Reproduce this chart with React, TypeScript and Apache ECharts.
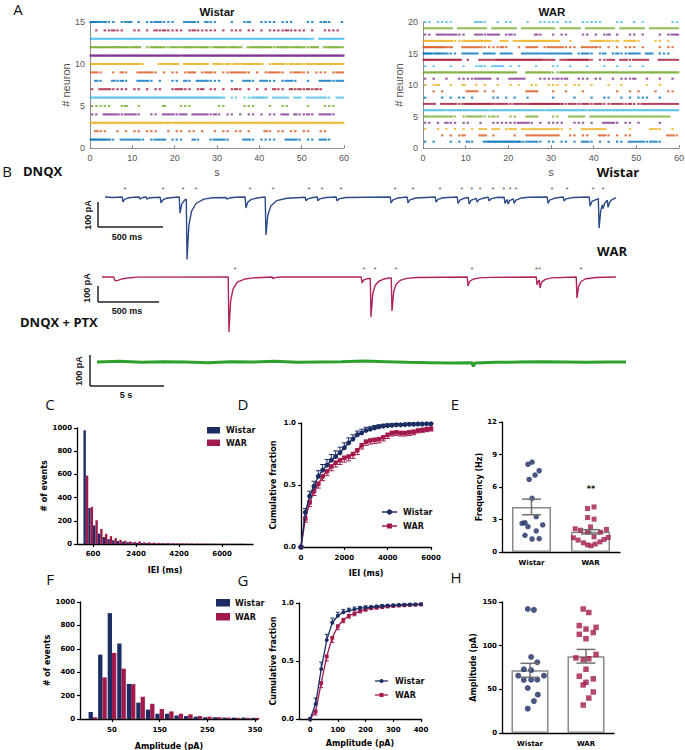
import React, { useEffect, useRef } from "react";
import * as echarts from "echarts";

const NAVY = "#1b2d63";
const CRIMSON = "#a3194b";
const BLUE_TRACE = "#2c4a86";
const RED_TRACE = "#b0235a";
const GREEN_TRACE = "#2da12d";
const PF = "DejaVu Sans";
const MF = "Liberation Sans";
const LF = "Open Sans";
const MATLAB = ["#0072BD", "#D95319", "#EDB120", "#7E2F8E", "#77AC30", "#4DBEEE", "#A2142F"];

// ---- Panel A: spikes per second for each neuron (index 0 = neuron 1) ----
const wistarRows = [
  "3333210222" + "2210122201" + "1100210012" + "2210002210" + "1111002221" + "0110221000",
  "0211001010" + "1101110010" + "1101101001" + "0110110100" + "0210110110" + "1100110000",
  "3333333333" + "3333333232" + "3333333333" + "3333333333" + "3333333333" + "3333333333",
  "1102222122" + "2100110222" + "1220222212" + "1011010110" + "1011022021" + "1210222100",
  "1111100120" + "0100000200" + "0111000000" + "1100001110" + "0010011000" + "0100011100",
  "3333333333" + "3333333333" + "3333333333" + "3201101123" + "3202222022" + "0222221022",
  "1022211110" + "1101011001" + "2211012011" + "0101210101" + "0102110212" + "1212100000",
  "0210021210" + "0222101001" + "1021022211" + "1001002210" + "2211012210" + "0100222122",
  "2210010210" + "0222210101" + "1012201221" + "0112222101" + "0122210122" + "1101110122",
  "3333333333" + "3310002333" + "3033333303" + "3131323333" + "2013331323" + "1323333333",
  "4444444444" + "4444444444" + "4344444444" + "4444444444" + "4444444444" + "4444444444",
  "3333333332" + "3301233213" + "2233323313" + "3323320233" + "3331333233" + "2133023332",
  "3333333333" + "3333333333" + "3333333333" + "3333333333" + "3333333333" + "3320333333",
  "0101121100" + "1101021211" + "1101211111" + "0101110110" + "1011112111" + "1010011110",
  "3322110122" + "0101122111" + "0022210211" + "0001001200" + "1111011100" + "0110121001",
];
const warRows = [
  "1010001010" + "2100233333" + "3331222101" + "1011010221" + "0101011022" + "2212210000",
  "0000101012" + "0002201000" + "0100222222" + "2200110110" + "0221010110" + "0000000221",
  "1001010101" + "0102202201" + "2202222222" + "2210100222" + "2220000010" + "0002210010",
  "1101021101" + "1001001111" + "1122210101" + "1110011101" + "0022210110" + "1000010000",
  "2222222101" + "2222112100" + "1100222000" + "1100222202" + "2222222222" + "2222222200",
  "3333323333" + "3333323333" + "3333333323" + "3333333323" + "3333333333" + "3333333333",
  "2220222212" + "3333332222" + "1222233333" + "3321221221" + "2211222121" + "1222222222",
  "1000101011" + "0100001101" + "0100100000" + "1000010001" + "0011001010" + "1110010000",
  "0010100000" + "2220101000" + "0000222000" + "1001000100" + "0000010010" + "1000100110",
  "1012001002" + "0010100100" + "1010011001" + "1101011001" + "0001001000" + "0010010000",
  "1010010011" + "1122220100" + "2222000111" + "1212001110" + "1100101112" + "0010010010",
  "3333333333" + "3333333333" + "3300333333" + "1133333333" + "3333333333" + "3333333333",
  "1010001001" + "0012102220" + "1010001000" + "1100100010" + "0010010010" + "0100000000",
  "3333333330" + "1002222333" + "3333333322" + "2022333331" + "0112202212" + "2220022222",
  "3323221102" + "2220222022" + "2002222222" + "2222201221" + "0120121122" + "2022011100",
  "3333322002" + "2222111121" + "0010222012" + "2221110222" + "2101010111" + "0100010110",
  "3333333112" + "3333330022" + "0223333333" + "3300100002" + "3322120222" + "1000110100",
  "1102222211" + "0022122201" + "2100002100" + "1011000110" + "1012010011" + "0100010122",
  "2222222022" + "2222202222" + "2202222222" + "2022222022" + "2222202222" + "2202222222",
  "1101111000" + "0022100101" + "1000100111" + "1101100111" + "1100011001" + "0100000011",
];

// ---- Panel B: traces [time, pA] ----
const blueTrace = [
  [0, 0], [60, -2], [132, 0], [138, -19], [150, -9], [175, -4], [220, -1], [263, 0], [269, -8], [285, -3],
  [317, 0], [323, -8], [340, -3], [425, -1], [431, -23], [445, -11], [470, -5], [520, -2], [571, 0], [577, -62],
  [590, -28], [612, -12], [625, -8], [631, -240], [645, -110], [665, -55], [700, -25], [760, -8], [830, -3], [932, -2],
  [938, -8], [955, -4], [1000, -1], [1078, 0], [1084, -42], [1098, -20], [1125, -9], [1180, -3], [1232, 0], [1238, -146],
  [1252, -70], [1275, -35], [1320, -14], [1400, -5], [1540, -1], [1546, -15], [1560, -7], [1600, -2], [1632, 0], [1638, -15],
  [1652, -7], [1700, -2], [1778, 0], [1784, -15], [1800, -7], [1850, -2], [2194, 0], [2200, -23], [2215, -11], [2250, -4],
  [2324, 0], [2330, -23], [2345, -11], [2390, -4], [2540, 0], [2546, -20], [2560, -9], [2600, -3], [2709, 0], [2715, -25],
  [2730, -12], [2760, -5], [2794, -2], [2800, -27], [2815, -13], [2855, -5], [2861, -20], [2875, -10], [2920, -3], [2947, -1],
  [2953, -15], [2968, -7], [3010, -2], [3070, -1], [3076, -25], [3088, -13], [3094, -10], [3100, -27], [3112, -14], [3140, -7],
  [3146, -25], [3160, -12], [3200, -4], [3260, -1], [3401, 0], [3407, -25], [3420, -12], [3460, -4], [3524, 0], [3530, -15],
  [3545, -7], [3600, -2], [3724, 0], [3730, -35], [3745, -17], [3794, -6], [3800, -120], [3812, -55], [3824, -30], [3830, -45],
  [3842, -25], [3863, -12], [3869, -40], [3881, -20], [3900, -10], [3930, -2],
];
const blueStars = [154, 446, 600, 700, 1115, 1292, 1569, 1669, 1815, 2230, 2369, 2576, 2745, 2822, 2884, 2984, 3068, 3115, 3161, 3438, 3553, 3753, 3830];
const redTrace = [
  [0, 0], [95, 0], [107, -22], [130, -20], [170, -10], [230, -4], [300, -1], [1035, 0], [1041, -324], [1055, -140],
  [1075, -70], [1110, -30], [1170, -12], [1260, -4], [1396, 0], [1402, -10], [1420, -4], [1460, 0], [2126, 0], [2132, -35],
  [2145, -18], [2175, -10], [2200, -8], [2206, -235], [2220, -100], [2240, -50], [2270, -25], [2310, -12], [2360, -6], [2372, -5],
  [2378, -200], [2392, -85], [2412, -42], [2445, -20], [2500, -8], [2580, -3], [2995, 0], [3001, -53], [3015, -25], [3045, -12],
  [3100, -5], [3180, -2], [3561, 0], [3567, -45], [3580, -22], [3586, -20], [3592, -65], [3605, -30], [3635, -14], [3690, -5],
  [3889, 0], [3895, -124], [3908, -55], [3930, -25], [3970, -10], [4050, -3], [4215, 0],
];
const redStarTimes = [1091, 2148, 2239, 2411, 3034, 3575, 3928];
const redStarMarks = ["*", "*", "*", "*", "*", "**", "*"];
const greenTrace = [
  [0, 0], [1.5, 2], [3, -1], [4.5, 1], [6, 0], [7.5, -2], [9, 1], [10.5, 0], [12, 2], [13.5, -1],
  [15, 0], [16.5, 1], [18, 3], [19.5, 1], [21, -1], [22.5, -2], [24, -3], [25.3, -2], [25.4, -14], [25.5, -3],
  [27, -1], [28.5, 0], [30, 1], [31.5, 0], [33, -1], [34.5, 0], [35.7, 0],
];

// ---- Panel C: IEI histogram ----
const ieiBins = Array.from({ length: 34 }, (_, i) => 300 + 200 * i);
const ieiWistar = [980, 310, 160, 90, 60, 42, 32, 25, 20, 16, 13, 11, 9, 7, 6, 5, 5, 4, 4, 3, 3, 3, 2, 2, 2, 2, 2, 2, 1, 1, 1, 1, 1, 1];
const ieiWAR = [590, 320, 205, 130, 88, 68, 50, 36, 28, 22, 18, 22, 15, 14, 12, 10, 9, 8, 7, 7, 6, 5, 5, 4, 4, 4, 3, 3, 3, 3, 3, 2, 2, 2];

// ---- Panel D: cumulative IEI ----
const cumX = Array.from({ length: 31 }, (_, i) => i * 200);
const cumWistar = [0, 0.28, 0.41, 0.49, 0.57, 0.62, 0.66, 0.7, 0.73, 0.76, 0.8, 0.84, 0.87, 0.905, 0.92, 0.94, 0.95, 0.96, 0.97, 0.975, 0.98, 0.982, 0.985, 0.985, 0.988, 0.99, 0.99, 0.992, 0.992, 0.993, 0.993];
const cumWAR = [0, 0.23, 0.36, 0.45, 0.51, 0.57, 0.61, 0.65, 0.68, 0.7, 0.72, 0.73, 0.75, 0.78, 0.82, 0.85, 0.86, 0.865, 0.87, 0.885, 0.905, 0.92, 0.925, 0.92, 0.92, 0.925, 0.93, 0.94, 0.945, 0.95, 0.955];
const cumSemWistar = [0, 0.03, 0.04, 0.04, 0.045, 0.045, 0.045, 0.045, 0.045, 0.045, 0.04, 0.04, 0.035, 0.03, 0.03, 0.025, 0.02, 0.02, 0.015, 0.015, 0.012, 0.01, 0.01, 0.01, 0.008, 0.008, 0.006, 0.006, 0.005, 0.005, 0.005];
const cumSemWAR = [0, 0.03, 0.035, 0.035, 0.035, 0.035, 0.035, 0.035, 0.035, 0.035, 0.035, 0.035, 0.035, 0.035, 0.03, 0.03, 0.03, 0.03, 0.03, 0.03, 0.03, 0.025, 0.025, 0.025, 0.025, 0.025, 0.025, 0.02, 0.02, 0.02, 0.02];

// ---- Panel E: frequency ----
const groups = ["Wistar", "WAR"];
const freqMean = [4.16, 1.86];
const freqSem = [0.72, 0.2];
const freqWistarX = [0.44, 0.51, 0.56, 0.63, 0.46, 0.51, 0.58, 0.34, 0.39, 0.44, 0.69, 0.58, 0.39, 0.51, 0.63];
const freqWistarY = [8.1, 8.3, 7.1, 7.5, 6.7, 4.95, 3.26, 2.65, 2.7, 2.34, 2.5, 1.94, 1.54, 1.2, 1.23];
const freqWarX = [1.45, 1.56, 1.45, 1.56, 1.24, 1.33, 1.5, 1.45, 1.67, 1.77, 1.56, 1.21, 1.29, 1.38, 1.45, 1.51, 1.58, 1.66, 1.73, 1.8];
const freqWarY = [4.01, 4.16, 3.18, 3.03, 2.14, 2.01, 2.32, 1.83, 1.83, 2.08, 1.4, 1.31, 1.1, 0.85, 0.66, 0.57, 0.73, 0.94, 1.16, 1.34];

// ---- Panel F: amplitude histogram ----
const ampBins = Array.from({ length: 18 }, (_, i) => 10 + 20 * i);
const ampWistar = [60, 550, 905, 645, 300, 140, 80, 45, 45, 30, 25, 20, 15, 15, 12, 12, 12, 10];
const ampWAR = [15, 355, 565, 430, 298, 190, 130, 85, 65, 45, 40, 25, 20, 15, 12, 10, 10, 10];

// ---- Panel G: cumulative amplitude ----
const ampCumX = Array.from({ length: 21 }, (_, i) => i * 20);
const cumAmpWistar = [0, 0.13, 0.43, 0.68, 0.83, 0.89, 0.92, 0.935, 0.945, 0.955, 0.96, 0.965, 0.97, 0.975, 0.978, 0.98, 0.983, 0.985, 0.987, 0.988, 0.99];
const cumAmpWAR = [0, 0.065, 0.31, 0.54, 0.7, 0.8, 0.855, 0.89, 0.91, 0.93, 0.945, 0.955, 0.96, 0.965, 0.97, 0.975, 0.978, 0.98, 0.983, 0.985, 0.988];
const cumAmpSemWistar = [0, 0.05, 0.06, 0.05, 0.04, 0.03, 0.025, 0.02, 0.02, 0.015, 0.015, 0.01, 0.01, 0.01, 0.008, 0.008, 0.006, 0.006, 0.005, 0.005, 0.005];
const cumAmpSemWAR = [0, 0.03, 0.04, 0.04, 0.04, 0.03, 0.025, 0.02, 0.02, 0.015, 0.015, 0.01, 0.01, 0.01, 0.008, 0.008, 0.006, 0.006, 0.005, 0.005, 0.005];

// ---- Panel H: amplitude ----
const ampMean = [71.8, 87.9];
const ampSem = [8, 7.8];
const ampPtWistarX = [0.46, 0.57, 0.52, 0.63, 0.39, 0.52, 0.29, 0.39, 0.52, 0.63, 0.75, 0.46, 0.64, 0.57, 0.46];
const ampPtWistarY = [142, 141, 87, 81, 73, 72, 65.6, 60.7, 61, 61, 65.6, 51.5, 43.9, 36.6, 27.8];
const ampPtWarX = [1.45, 1.55, 1.38, 1.5, 1.68, 1.63, 1.38, 1.5, 1.32, 1.45, 1.55, 1.68, 1.5, 1.38, 1.63, 1.5, 1.45, 1.63, 1.55, 1.45];
const ampPtWarY = [142, 138, 123, 119, 121, 115, 113, 108, 86, 84, 85, 90, 73, 65, 62, 58, 55, 47, 40, 32];

function spikes(rows: string[]) {
  const pts: number[][] = [];
  rows.forEach((row, i) => {
    for (let s = 0; s < row.length; s++) {
      const n = Number(row[s]);
      for (let k = 0; k < n; k++) pts.push([s + (k + 0.5) / n, i + 1]);
    }
  });
  return pts;
}

const plain = (v: any) => String(v);

function pAxis(o: any) {
  const { label = {}, tick = {}, nameStyle = {}, ...rest } = o;
  const isCat = o.type === "category";
  return {
    splitLine: { show: false },
    axisLine: { show: true, onZero: false, lineStyle: { color: "#000", width: 1.3 } },
    axisTick: { show: true, length: 3, lineStyle: { color: "#000", width: 1.2 }, ...tick },
    axisLabel: { color: "#000", fontSize: 7, fontWeight: "bold", fontFamily: PF, margin: 5, ...(isCat ? {} : { formatter: plain }), ...label },
    nameLocation: "middle",
    nameTextStyle: { color: "#000", fontSize: 8, fontWeight: "bold", fontFamily: PF, ...nameStyle },
    ...rest,
  };
}

function mAxis(o: any) {
  const { label = {}, ...rest } = o;
  return {
    type: "value",
    splitLine: { show: false },
    axisLine: { show: true, onZero: false, lineStyle: { color: "#8c8c8c", width: 1 } },
    axisTick: { show: true, inside: true, length: 3, lineStyle: { color: "#8c8c8c" } },
    axisLabel: { color: "#555", fontSize: 9, fontFamily: MF, margin: 5, formatter: plain, ...label },
    nameLocation: "middle",
    nameTextStyle: { color: "#555", fontSize: 11, fontFamily: MF },
    ...rest,
  };
}

function errSeries(xi: number, yi: number, data: number[][], sign: number, color: string, cap: number, lw: number) {
  return {
    type: "custom",
    xAxisIndex: xi,
    yAxisIndex: yi,
    data,
    z: 5,
    silent: true,
    renderItem: (_p: any, api: any) => {
      const x = api.value(0);
      const y = api.value(1);
      const e = api.value(2);
      const p0 = api.coord([x, y]);
      const signs = sign === 0 ? [1, -1] : [sign];
      const children: any[] = [];
      for (const s of signs) {
        const p1 = api.coord([x, y + s * e]);
        children.push({ type: "line", shape: { x1: p0[0], y1: p0[1], x2: p1[0], y2: p1[1] }, style: { stroke: color, lineWidth: lw } });
        children.push({ type: "line", shape: { x1: p1[0] - cap, y1: p1[1], x2: p1[0] + cap, y2: p1[1] }, style: { stroke: color, lineWidth: lw } });
      }
      return { type: "group", children };
    },
  };
}

function txt(text: string, x: number, y: number, size: number, family: string, weight = "normal", align = "center", extra: any = {}) {
  return {
    type: "text",
    x,
    y,
    silent: true,
    ...extra,
    style: { text, fontSize: size, fontFamily: family, fontWeight: weight, fill: "#111", align, verticalAlign: "middle" },
  };
}

function ln(x1: number, y1: number, x2: number, y2: number, color = "#222", w = 1.5) {
  return { type: "line", silent: true, shape: { x1, y1, x2, y2 }, style: { stroke: color, lineWidth: w } };
}

export default function App() {
  const ref = useRef<HTMLDivElement>(null);
  useEffect(() => {
    if (!ref.current) return;
    const chart = echarts.init(ref.current, undefined, { renderer: "svg" });
    const G = (left: number, top: number, width: number, height: number) => ({ left, top, width, height, outerBoundsMode: "none", containLabel: false });

    const graphic: any[] = [
      ...([["A", 18, 9], ["B", 7, 171], ["C", 50, 404], ["D", 243, 404], ["E", 455, 404], ["F", 50, 579], ["G", 243, 580], ["H", 456, 577]] as any[]).map(
        ([t, x, y]) => txt(t, x, y, 15, LF)
      ),
      txt("Wistar", 217, 12, 11.5, MF, "bold"),
      txt("WAR", 552, 12, 11.5, MF, "bold"),
      txt("DNQX", 23, 171, 13, LF, "bold", "left"),
      txt("Wistar", 618, 172, 13, LF, "bold"),
      txt("WAR", 612, 251, 13, LF, "bold"),
      txt("DNQX + PTX", 20, 322, 13, LF, "bold", "left"),
      ln(98, 202, 98, 227), ln(98, 227, 163, 227),
      ln(98, 286, 98, 302), ln(98, 302, 159, 302),
      ln(90, 355, 90, 386), ln(90, 386, 164, 386),
      txt("100 pA", 88, 215, 9, MF, "bold", "center", { rotation: Math.PI / 2 }),
      txt("100 pA", 87, 288, 9, MF, "bold", "center", { rotation: Math.PI / 2 }),
      txt("100 pA", 79, 371, 9, MF, "bold", "center", { rotation: Math.PI / 2 }),
      txt("500 ms", 127, 237, 9, MF, "bold"),
      txt("500 ms", 127, 311, 9, MF, "bold"),
      txt("5 s", 126, 395, 9, MF, "bold"),
      { type: "rect", silent: true, shape: { x: 207, y: 427, width: 13, height: 6.5 }, style: { fill: NAVY } },
      txt("Wistar", 226, 430.5, 8, PF, "bold", "left"),
      { type: "rect", silent: true, shape: { x: 207, y: 439.5, width: 13, height: 6.5 }, style: { fill: CRIMSON } },
      txt("WAR", 226, 443, 8, PF, "bold", "left"),
      { type: "rect", silent: true, shape: { x: 216, y: 599, width: 14, height: 7.5 }, style: { fill: NAVY } },
      txt("Wistar", 235, 603, 8, PF, "bold", "left"),
      { type: "rect", silent: true, shape: { x: 216, y: 613, width: 14, height: 7.5 }, style: { fill: CRIMSON } },
      txt("WAR", 235, 617, 8, PF, "bold", "left"),
      ln(382, 512, 397, 512, NAVY, 1.5),
      { type: "circle", silent: true, shape: { cx: 389.5, cy: 512, r: 2.7 }, style: { fill: NAVY } },
      txt("Wistar", 403, 512, 8, PF, "bold", "left"),
      ln(382, 526, 397, 526, CRIMSON, 1.5),
      { type: "rect", silent: true, shape: { x: 387, y: 523.5, width: 5, height: 5 }, style: { fill: CRIMSON } },
      txt("WAR", 403, 526, 8, PF, "bold", "left"),
      ln(375, 681, 388, 681, NAVY, 1.3),
      { type: "circle", silent: true, shape: { cx: 381.5, cy: 681, r: 2 }, style: { fill: NAVY } },
      txt("Wistar", 395, 681, 8, PF, "bold", "left"),
      ln(375, 695, 388, 695, CRIMSON, 1.3),
      { type: "rect", silent: true, shape: { x: 379.5, y: 693, width: 4, height: 4 }, style: { fill: CRIMSON } },
      txt("WAR", 395, 695, 8, PF, "bold", "left"),
      txt("**", 591, 489, 8, PF, "bold"),
    ];

    const option: any = {
      animation: false,
      backgroundColor: "#fff",
      grid: [
        G(90, 22, 254, 126),
        G(423, 22, 256, 126),
        G(105, 184, 511, 78),
        G(102, 260, 514, 76.5),
        G(97, 346, 529, 32),
        G(77, 428, 176, 116),
        G(301, 423, 130, 124),
        G(502, 422, 118, 130),
        G(80, 602, 178, 117),
        G(299, 603, 122, 116),
        G(502, 602, 112, 131),
      ],
      xAxis: [
        mAxis({ gridIndex: 0, min: 0, max: 60, interval: 10, name: "s", nameGap: 18 }),
        mAxis({ gridIndex: 1, min: 0, max: 60, interval: 10, name: "s", nameGap: 18 }),
        { gridIndex: 2, type: "value", min: 0, max: 3930, show: false },
        { gridIndex: 3, type: "value", min: 0, max: 4215, show: false },
        { gridIndex: 4, type: "value", min: 0, max: 35.7, show: false },
        pAxis({ gridIndex: 5, type: "value", min: -71, max: 7296, name: "IEI (ms)", nameGap: 22, label: { customValues: [600, 2400, 4200, 6000], margin: 6 }, tick: { customValues: [600, 2400, 4200, 6000] } }),
        pAxis({ gridIndex: 6, type: "value", min: 0, max: 6000, interval: 2000, name: "IEI (ms)", nameGap: 22, label: { margin: 7 } }),
        pAxis({ gridIndex: 7, type: "category", data: groups, label: { margin: 7 }, tick: { show: false } }),
        { gridIndex: 7, type: "value", min: 0, max: 2, show: false },
        pAxis({ gridIndex: 8, type: "value", min: -17, max: 356, name: "Amplitude (pA)", nameGap: 23, label: { customValues: [50, 150, 250, 350], margin: 7 }, tick: { customValues: [50, 150, 250, 350] } }),
        pAxis({ gridIndex: 9, type: "value", min: -40, max: 400, name: "Amplitude (pA)", nameGap: 20, label: { customValues: [0, 100, 200, 300, 400], margin: 7 }, tick: { customValues: [0, 100, 200, 300, 400] } }),
        pAxis({ gridIndex: 10, type: "category", data: groups, label: { margin: 7 }, tick: { show: false } }),
        { gridIndex: 10, type: "value", min: 0, max: 2, show: false },
      ],
      yAxis: [
        mAxis({ gridIndex: 0, min: 0, max: 15, interval: 5, name: "# neuron", nameGap: 16, nameRotate: 90 }),
        mAxis({ gridIndex: 1, min: 0, max: 20, interval: 5, name: "# neuron", nameGap: 16, nameRotate: 90 }),
        { gridIndex: 2, type: "value", min: -250, max: 50, show: false },
        { gridIndex: 3, type: "value", min: -350, max: 100, show: false },
        { gridIndex: 4, type: "value", min: -50, max: 50, show: false },
        pAxis({ gridIndex: 5, type: "value", min: 0, max: 1000, interval: 200, name: "# of events", nameGap: 26, nameRotate: 90 }),
        pAxis({ gridIndex: 6, type: "value", min: 0, max: 1, interval: 0.5, name: "Cumulative fraction", nameGap: 24, nameRotate: 90, label: { formatter: (v: number) => v.toFixed(1) } }),
        pAxis({ gridIndex: 7, type: "value", min: 0, max: 12, interval: 3, name: "Frequency (Hz)", nameGap: 17, nameRotate: 90 }),
        pAxis({ gridIndex: 8, type: "value", min: 0, max: 1000, interval: 200, name: "# of events", nameGap: 24, nameRotate: 90 }),
        pAxis({ gridIndex: 9, type: "value", min: 0, max: 1, interval: 0.5, name: "Cumulative fraction", nameGap: 20, nameRotate: 90, label: { formatter: (v: number) => v.toFixed(1) } }),
        pAxis({ gridIndex: 10, type: "value", min: 0, max: 150, interval: 50, name: "Amplitude (pA)", nameGap: 25, nameRotate: 90 }),
      ],
      series: [
        {
          type: "scatter", xAxisIndex: 0, yAxisIndex: 0, data: spikes(wistarRows), symbol: "rect", symbolSize: [2.4, 2],
          itemStyle: { color: (p: any) => MATLAB[(p.value[1] - 1) % 7] }, silent: true,
        },
        {
          type: "scatter", xAxisIndex: 1, yAxisIndex: 1, data: spikes(warRows), symbol: "rect", symbolSize: [2.4, 2],
          itemStyle: { color: (p: any) => MATLAB[(p.value[1] - 1) % 7] }, silent: true,
        },
        { type: "line", xAxisIndex: 2, yAxisIndex: 2, data: blueTrace, showSymbol: false, lineStyle: { color: BLUE_TRACE, width: 1.4 }, silent: true },
        {
          type: "scatter", xAxisIndex: 2, yAxisIndex: 2, data: blueStars.map((t) => ({ name: "*", value: [t, 27] })), symbolSize: 1,
          itemStyle: { color: "rgba(0,0,0,0)" }, label: { show: true, position: "inside", formatter: "{b}", fontSize: 8, color: "#333", fontFamily: MF }, silent: true,
        },
        { type: "line", xAxisIndex: 3, yAxisIndex: 3, data: redTrace, showSymbol: false, lineStyle: { color: RED_TRACE, width: 1.4 }, silent: true },
        {
          type: "scatter", xAxisIndex: 3, yAxisIndex: 3, data: redStarTimes.map((t, i) => ({ name: redStarMarks[i], value: [t, 45] })), symbolSize: 1,
          itemStyle: { color: "rgba(0,0,0,0)" }, label: { show: true, position: "inside", formatter: "{b}", fontSize: 8, color: "#333", fontFamily: MF }, silent: true,
        },
        { type: "line", xAxisIndex: 4, yAxisIndex: 4, data: greenTrace, showSymbol: false, lineStyle: { color: GREEN_TRACE, width: 3 }, silent: true },
        { type: "bar", name: "Wistar", xAxisIndex: 5, yAxisIndex: 5, data: ieiBins.map((b, i) => [b, ieiWistar[i]]), barWidth: 2.4, barGap: "0%", itemStyle: { color: NAVY } },
        { type: "bar", name: "WAR", xAxisIndex: 5, yAxisIndex: 5, data: ieiBins.map((b, i) => [b, ieiWAR[i]]), barWidth: 2.4, barGap: "0%", itemStyle: { color: CRIMSON } },
        errSeries(6, 6, cumX.map((x, i) => [x, cumWistar[i], cumSemWistar[i]]), 1, NAVY, 2.5, 1),
        errSeries(6, 6, cumX.map((x, i) => [x, cumWAR[i], cumSemWAR[i]]), -1, CRIMSON, 2.5, 1),
        { type: "line", name: "WAR", xAxisIndex: 6, yAxisIndex: 6, data: cumX.map((x, i) => [x, cumWAR[i]]), symbol: "rect", symbolSize: 4.5, lineStyle: { color: CRIMSON, width: 1.5 }, itemStyle: { color: CRIMSON }, z: 6 },
        { type: "line", name: "Wistar", xAxisIndex: 6, yAxisIndex: 6, data: cumX.map((x, i) => [x, cumWistar[i]]), symbol: "circle", symbolSize: 5, lineStyle: { color: NAVY, width: 1.5 }, itemStyle: { color: NAVY }, z: 7 },
        { type: "bar", xAxisIndex: 7, yAxisIndex: 7, data: freqMean, barWidth: 39, itemStyle: { color: "#fff", borderColor: "#8a8a8a", borderWidth: 1.5 }, z: 2 },
        { type: "scatter", xAxisIndex: 8, yAxisIndex: 7, data: freqWistarX.map((x, i) => [x, freqWistarY[i]]), symbol: "circle", symbolSize: 5.5, itemStyle: { color: NAVY }, z: 4 },
        { type: "scatter", xAxisIndex: 8, yAxisIndex: 7, data: freqWarX.map((x, i) => [x, freqWarY[i]]), symbol: "rect", symbolSize: 5, itemStyle: { color: CRIMSON }, z: 4 },
        errSeries(7, 7, freqMean.map((m, i) => [i, m, freqSem[i]]), 0, "#6f6f6f", 9.5, 1.5),
        { type: "bar", name: "Wistar", xAxisIndex: 9, yAxisIndex: 8, data: ampBins.map((b, i) => [b, ampWistar[i]]), barWidth: 4.3, barGap: "0%", itemStyle: { color: NAVY } },
        { type: "bar", name: "WAR", xAxisIndex: 9, yAxisIndex: 8, data: ampBins.map((b, i) => [b, ampWAR[i]]), barWidth: 4.3, barGap: "0%", itemStyle: { color: CRIMSON } },
        errSeries(10, 9, ampCumX.map((x, i) => [x, cumAmpWistar[i], cumAmpSemWistar[i]]), 1, NAVY, 2, 1),
        errSeries(10, 9, ampCumX.map((x, i) => [x, cumAmpWAR[i], cumAmpSemWAR[i]]), -1, CRIMSON, 2, 1),
        { type: "line", name: "WAR", xAxisIndex: 10, yAxisIndex: 9, data: ampCumX.map((x, i) => [x, cumAmpWAR[i]]), symbol: "rect", symbolSize: 3.8, lineStyle: { color: CRIMSON, width: 1.3 }, itemStyle: { color: CRIMSON }, z: 6 },
        { type: "line", name: "Wistar", xAxisIndex: 10, yAxisIndex: 9, data: ampCumX.map((x, i) => [x, cumAmpWistar[i]]), symbol: "circle", symbolSize: 4, lineStyle: { color: NAVY, width: 1.3 }, itemStyle: { color: NAVY }, z: 7 },
        { type: "bar", xAxisIndex: 11, yAxisIndex: 10, data: ampMean, barWidth: 37, itemStyle: { color: "#fff", borderColor: "#8a8a8a", borderWidth: 1.5 }, z: 2 },
        { type: "scatter", xAxisIndex: 12, yAxisIndex: 10, data: ampPtWistarX.map((x, i) => [x, ampPtWistarY[i]]), symbol: "circle", symbolSize: 6, itemStyle: { color: NAVY }, z: 4 },
        { type: "scatter", xAxisIndex: 12, yAxisIndex: 10, data: ampPtWarX.map((x, i) => [x, ampPtWarY[i]]), symbol: "rect", symbolSize: 5.5, itemStyle: { color: CRIMSON }, z: 4 },
        errSeries(11, 10, ampMean.map((m, i) => [i, m, ampSem[i]]), 0, "#6f6f6f", 9.5, 1.5),
      ],
      graphic,
    };
    chart.setOption(option);
    return () => chart.dispose();
  }, []);
  return <div ref={ref} style={{ position: "absolute", left: 0, top: 0, width: 685, height: 750, background: "#fff" }} />;
}
